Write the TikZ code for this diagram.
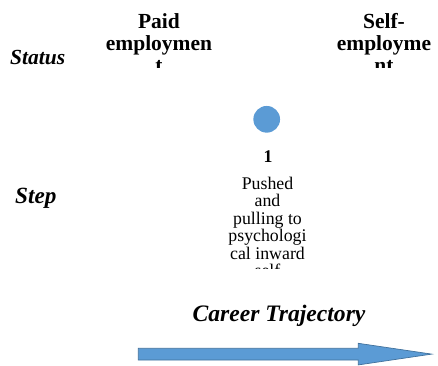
\documentclass[tikz,border=0pt]{standalone}
\usepackage{fontspec}
\setmainfont{Liberation Serif}
\definecolor{accblue}{HTML}{5B9BD5}
\definecolor{accedge}{HTML}{41719C}
\begin{document}
\begin{tikzpicture}[x=1pt,y=-1pt,
  rowlabel/.style={anchor=base west, inner sep=0, font=\bfseries\itshape\fontsize{#1}{24}\selectfont},
  colhead/.style={anchor=base, inner sep=0, align=center, font=\bfseries\fontsize{21.5}{22.3}\selectfont},
  bodytext/.style={anchor=base, inner sep=0, align=center, font=\fontsize{17.8}{17.5}\selectfont},
  stepnum/.style={anchor=base, inner sep=0, font=\bfseries\fontsize{17.8}{18}\selectfont},
  dotmark/.style={circle, fill=accblue, minimum size=26.7pt, inner sep=0},
  bigarrow/.style={fill=accblue, draw=accedge, line width=0.7pt}
]
\useasboundingbox (0,0) rectangle (438,365);

\node[rowlabel=21.5] (status) at (10,64.5) {Status};
\node[rowlabel=23.2] (step) at (15,203.3) {Step};

\begin{scope}
  \clip (90,0) rectangle (438,67.5);
  \node[colhead] (paid) at (159,72.9) {Paid\\employmen\\t};
  \node[colhead] (self) at (384,72.9) {Self-\\employme\\nt};
\end{scope}

\node[dotmark] (dot) at (266.7,119.3) {};
\node[stepnum] (num) at (268,162.7) {1};

\begin{scope}
  \clip (200,170) rectangle (340,268);
  \node[bodytext] (desc) at (267.5,276.5) {Pushed\\and\\pulling to\\psychologi\\cal inward\\self};
\end{scope}

\node[anchor=base, inner sep=0, font=\bfseries\itshape\fontsize{23.6}{26}\selectfont] (career) at (279,321.7) {Career Trajectory};

\draw[bigarrow] (138.3,348.3) -- (358.3,348.3) -- (358.3,343.3) -- (431.7,354.1)
  -- (358.3,364.9) -- (358.3,360) -- (138.3,360) -- cycle;
\end{tikzpicture}
\end{document}
